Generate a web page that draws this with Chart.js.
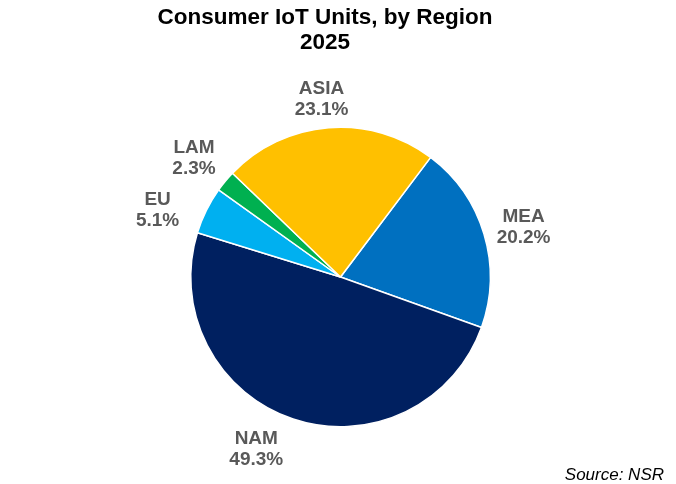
<!DOCTYPE html>
<html>
<head>
<meta charset="utf-8">
<script src="https://cdn.jsdelivr.net/npm/chart.js@4"></script>
<style>
  html, body { margin: 0; padding: 0; background: #fff; }
  #wrap { width: 676px; height: 484px; }
</style>
</head>
<body>
<div id="wrap"><canvas id="pie"></canvas></div>
<script>
const regions = ['MEA', 'NAM', 'EU', 'LAM', 'ASIA'];
const shares = [20.2, 49.3, 5.1, 2.3, 23.1];
const sliceColors = ['#0070C0', '#002060', '#00B0F0', '#00B050', '#FFC000'];
const titleLines = ['Consumer IoT Units, by Region', '2025'];
const sourceText = 'Source: NSR';

// label placement: [angle shift in degrees, distance beyond the pie edge]
const labelNudge = [[1.4, 40], [7.6, 42], [-6.3, 45], [-0.6, 39], [-1.5, 29]];

const LABEL_COLOR = '#595959';
const FONT = '"Liberation Sans", Arial, sans-serif';

// outside labels + title + source, drawn on the canvas
const textPlugin = {
  id: 'texts',
  afterDraw(chart) {
    const ctx = chart.ctx;
    ctx.save();
    ctx.textAlign = 'center';
    ctx.textBaseline = 'middle';

    ctx.fillStyle = '#000';
    ctx.font = 'bold 22.5px ' + FONT;
    titleLines.forEach((t, i) => ctx.fillText(t, 325, 18 + i * 25));

    const meta = chart.getDatasetMeta(0);
    ctx.fillStyle = LABEL_COLOR;
    ctx.font = 'bold 19px ' + FONT;
    meta.data.forEach((arc, i) => {
      const p = arc.getProps(['x', 'y', 'startAngle', 'endAngle', 'outerRadius'], true);
      const mid = (p.startAngle + p.endAngle) / 2 + labelNudge[i][0] * Math.PI / 180;
      const d = p.outerRadius + labelNudge[i][1];
      const cx = p.x + Math.cos(mid) * d;
      const cy = p.y + Math.sin(mid) * d;
      ctx.fillText(regions[i], cx, cy - 10.5);
      ctx.fillText(shares[i].toFixed(1) + '%', cx, cy + 10.5);
    });

    ctx.fillStyle = '#000';
    ctx.textAlign = 'right';
    ctx.textBaseline = 'alphabetic';
    ctx.font = 'italic 17px ' + FONT;
    ctx.fillText(sourceText, 664, 480);
    ctx.restore();
  }
};

new Chart(document.getElementById('pie'), {
  type: 'pie',
  data: {
    labels: regions,
    datasets: [{
      data: shares,
      backgroundColor: sliceColors,
      borderColor: '#fff',
      borderWidth: 1.5,
    }],
  },
  options: {
    responsive: true,
    maintainAspectRatio: false,
    animation: false,
    rotation: 37,
    layout: { padding: { top: 126, bottom: 56, left: 190, right: 185 } },
    plugins: {
      legend: { display: false },
      title: { display: false },
      tooltip: { enabled: false },
    },
  },
  plugins: [textPlugin],
});
</script>
</body>
</html>
